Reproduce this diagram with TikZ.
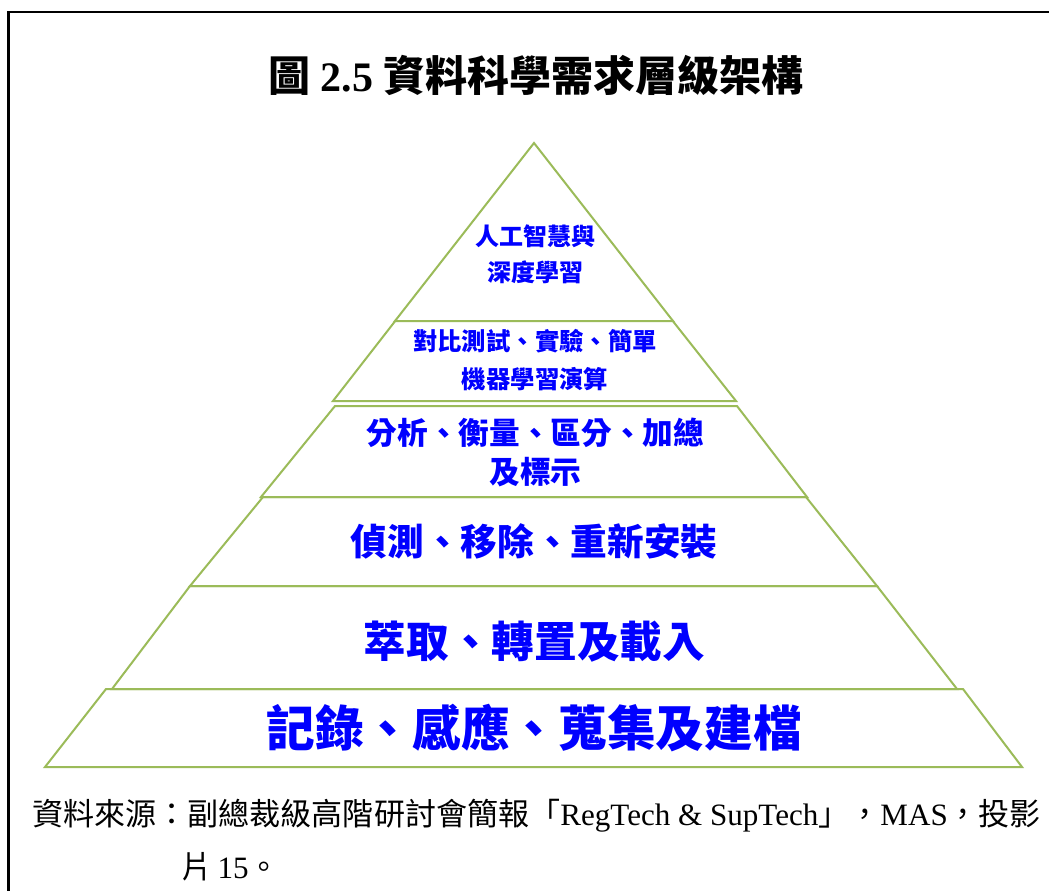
\documentclass[tikz,border=0pt]{standalone}
\usepackage{fontspec}
\setmainfont{Liberation Serif}
\newfontfamily\cjk{Noto Sans CJK TC}
\definecolor{pyrgreen}{RGB}{155,187,89}
\definecolor{txtblue}{RGB}{0,0,255}
\begin{document}
\begin{tikzpicture}[x=0.75pt,y=-0.75pt,
  layerbox/.style={draw=pyrgreen,line width=1.5pt,fill=white,line join=miter},
  lbl/.style={text=txtblue,align=center,inner sep=0pt},
  frameline/.style={line width=1.9pt,draw=black}]
\useasboundingbox (0,0) rectangle (1049,891);
% frame (only left and top edges visible)
\draw[frameline] (8.5,891) -- (8.5,12) -- (1049,12);
% title
\node[inner sep=0pt] (title) at (536,75) {\fontsize{31.5}{36}\selectfont{\cjk\bfseries 圖} \textbf{2.5} {\cjk\bfseries 資料科學需求層級架構}};
% pyramid layers
\draw[layerbox] (106,689) -- (963,689) -- (1022,767) -- (45,767) -- cycle;
\draw[layerbox] (190,586) -- (877,586) -- (957,689) -- (112,689) -- cycle;
\draw[layerbox] (263,497) -- (806,497) -- (877,586) -- (190,586) -- cycle;
\draw[layerbox] (335,406) -- (737,406) -- (807,497) -- (261,497) -- cycle;
\draw[layerbox] (396,320) -- (672,320) -- (736,401) -- (333,401) -- cycle;
\draw[layerbox] (534,143) -- (673,321) -- (395,321) -- cycle;
% labels
\node[lbl,font={\fontsize{18}{27}\selectfont\cjk\bfseries}] (l1) at (535,254) {人工智慧與\\深度學習};
\node[lbl,font={\fontsize{18.3}{28.5}\selectfont\cjk\bfseries}] (l2) at (535,360) {對比測試、實驗、簡單\\機器學習演算};
\node[lbl,font={\fontsize{23}{29.3}\selectfont\cjk\bfseries}] (l3) at (535.5,452.5) {分析、衡量、區分、加總\\及標示};
\node[lbl,font={\fontsize{27.5}{33}\selectfont\cjk\bfseries}] (l4) at (534,541) {偵測、移除、重新安裝};
\node[lbl,font={\fontsize{32}{38}\selectfont\cjk\bfseries}] (l5) at (534.5,642) {萃取、轉置及載入};
\node[lbl,font={\fontsize{36.5}{44}\selectfont\cjk\bfseries}] (l6) at (534,728) {記錄、感應、蒐集及建檔};
% source note
\node[inner sep=0pt,anchor=west] (src1) at (32,816) {\fontsize{23.3}{28}\selectfont{\cjk 資料來源：副總裁級高階研討會簡報「}RegTech \& SupTech{\cjk 」，}MAS{\cjk ，投影}};
\node[inner sep=0pt,anchor=west] (src2) at (181,867) {\fontsize{23.3}{28}\selectfont{\cjk 片}\,15{\cjk 。}};
\end{tikzpicture}
\end{document}
